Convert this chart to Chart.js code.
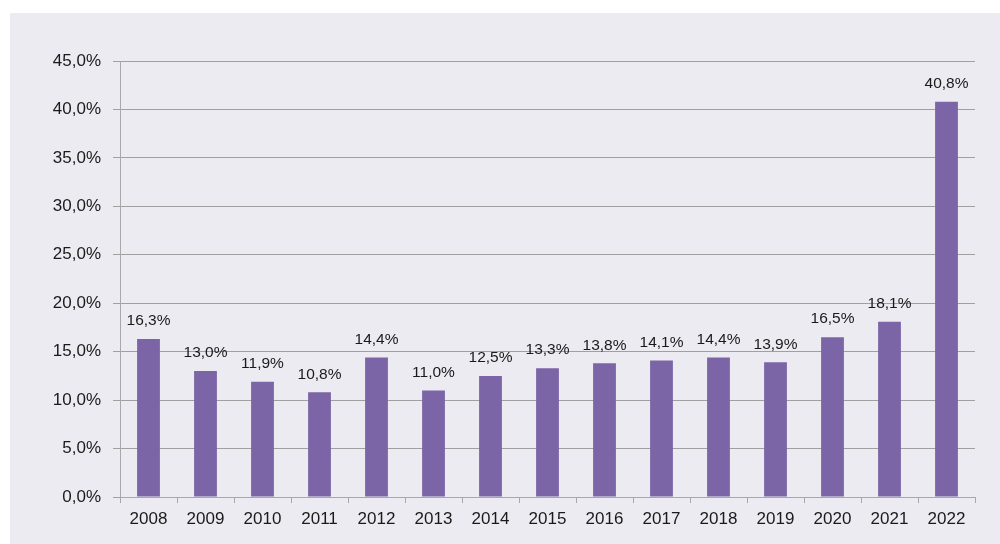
<!DOCTYPE html>
<html>
<head>
<meta charset="utf-8">
<script src="https://cdn.jsdelivr.net/npm/chart.js@4/dist/chart.umd.min.js"></script>
<style>
  html, body { margin: 0; padding: 0; background: #fff; }
  #painel { position: absolute; left: 10px; top: 13px; width: 990px; height: 531px; background: #ECEBF2; }
</style>
</head>
<body>
<div id="painel"><canvas id="grafico" width="990" height="531"></canvas></div>
<script>
const anos = ['2008', '2009', '2010', '2011', '2012', '2013', '2014', '2015', '2016', '2017', '2018', '2019', '2020', '2021', '2022'];
const valores = [16.3, 13.0, 11.9, 10.8, 14.4, 11.0, 12.5, 13.3, 13.8, 14.1, 14.4, 13.9, 16.5, 18.1, 40.8];
const yMax = 45;
const yPasso = 5;

const formata = v => v.toFixed(1).replace('.', ',') + '%';

// rótulos acima das barras
const rotulos = {
  id: 'rotulos',
  afterDatasetsDraw(chart) {
    const ctx = chart.ctx;
    const meta = chart.getDatasetMeta(0);
    ctx.save();
    ctx.font = '15.5px "Liberation Sans", Arial, sans-serif';
    ctx.fillStyle = '#1a1a1a';
    ctx.textAlign = 'center';
    ctx.textBaseline = 'middle';
    meta.data.forEach((bar, i) => {
      ctx.fillText(formata(valores[i]), bar.x, bar.y - 18);
    });
    ctx.restore();
  }
};

new Chart(document.getElementById('grafico').getContext('2d'), {
  type: 'bar',
  data: {
    labels: anos,
    datasets: [{
      data: valores,
      backgroundColor: '#7B65A6',
      barPercentage: 0.8,
      categoryPercentage: 0.5
    }]
  },
  options: {
    responsive: false,
    animation: false,
    layout: { padding: { top: 48, right: 25, left: 0, bottom: 0 } },
    plugins: { legend: { display: false }, tooltip: { enabled: false } },
    scales: {
      x: {
        afterFit: s => { s.height = 47; },
        grid: { offset: true, drawOnChartArea: false, tickLength: 6, color: '#a8a8a8' },
        border: { display: true, color: '#a8a8a8' },
        ticks: { color: '#1a1a1a', padding: 6, font: { family: '"Liberation Sans", Arial, sans-serif', size: 17 } }
      },
      y: {
        min: 0,
        max: yMax,
        afterFit: s => { s.width = 110; },
        grid: { color: '#a0a0a0', tickLength: 7 },
        border: { display: true, color: '#a8a8a8' },
        ticks: {
          stepSize: yPasso,
          padding: 12,
          color: '#1a1a1a',
          font: { family: '"Liberation Sans", Arial, sans-serif', size: 17 },
          callback: v => formata(v)
        }
      }
    }
  },
  plugins: [rotulos]
});
</script>
</body>
</html>
